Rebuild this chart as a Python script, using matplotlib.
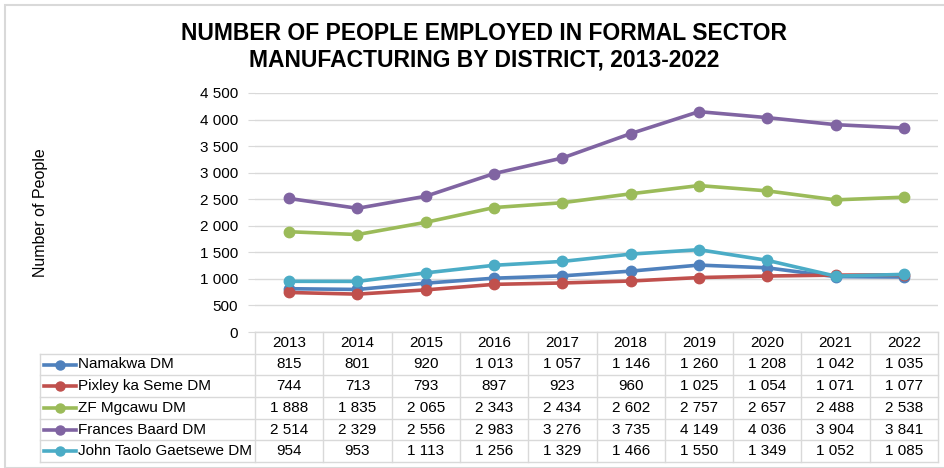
import matplotlib
matplotlib.use('Agg')
import matplotlib.pyplot as plt
import matplotlib.ticker as mticker
from matplotlib.patches import Rectangle

plt.rcParams['font.family'] = ['Liberation Sans', 'DejaVu Sans']

years = ['2013', '2014', '2015', '2016', '2017', '2018', '2019', '2020', '2021', '2022']
districts = ['Namakwa DM', 'Pixley ka Seme DM', 'ZF Mgcawu DM', 'Frances Baard DM', 'John Taolo Gaetsewe DM']
namakwa = [815, 801, 920, 1013, 1057, 1146, 1260, 1208, 1042, 1035]
pixley = [744, 713, 793, 897, 923, 960, 1025, 1054, 1071, 1077]
zf_mgcawu = [1888, 1835, 2065, 2343, 2434, 2602, 2757, 2657, 2488, 2538]
frances_baard = [2514, 2329, 2556, 2983, 3276, 3735, 4149, 4036, 3904, 3841]
john_taolo = [954, 953, 1113, 1256, 1329, 1466, 1550, 1349, 1052, 1085]
series = [namakwa, pixley, zf_mgcawu, frances_baard, john_taolo]
colors = ['#4F81BD', '#C0504D', '#9BBB59', '#8064A2', '#4BACC6']

W, H = 945, 468
fig = plt.figure(figsize=(W / 100, H / 100), dpi=100)

def fx(px):
    return px / W

def fy(py):
    return 1 - py / H

def fmt(v):
    return '{:,}'.format(int(v)).replace(',', ' ')

FS = 11  # table / tick font size

# outer border
fig.patches.append(Rectangle((fx(5), 0), 1, fy(5), transform=fig.transFigure,
                             fill=False, edgecolor='#D9D9D9', lw=1.5))

# plot area
L, R, T, B = 255, 938, 93, 332
ax = fig.add_axes([fx(L), fy(B), fx(R - L), fy(T) - fy(B)])
x = list(range(len(years)))
for vals, c in zip(series, colors):
    ax.plot(x, vals, color=c, lw=2.6, marker='o', ms=7.5, solid_capstyle='round')
ax.set_xlim(-0.5, len(years) - 0.5)
ax.set_ylim(0, 4500)
ax.yaxis.set_major_locator(mticker.MultipleLocator(500))
ax.yaxis.set_major_formatter(mticker.FuncFormatter(lambda v, p: fmt(v)))
ax.grid(axis='y', color='#D9D9D9', lw=1)
ax.set_axisbelow(True)
for s in ['top', 'right', 'bottom', 'left']:
    ax.spines[s].set_visible(False)
ax.set_xticks([])
ax.tick_params(axis='y', length=5, color='#D9D9D9', labelsize=FS, pad=7)
ax.set_ylabel('Number of People', fontsize=11.5)
ax.yaxis.set_label_coords((48 - L) / (R - L), 0.5)

fig.text(0.512, fy(33), 'NUMBER OF PEOPLE EMPLOYED IN FORMAL SECTOR', ha='center', va='center',
         fontsize=16.5, fontweight='bold')
fig.text(0.512, fy(60), 'MANUFACTURING BY DISTRICT, 2013-2022', ha='center', va='center',
         fontsize=16.5, fontweight='bold')

# data table
TL, TB = 40, 462
tax = fig.add_axes([fx(TL), fy(TB), fx(R - TL), fy(B) - fy(TB)])
unit = (R - L) / len(years)
left_edge = -0.5 - (L - TL) / unit
tax.set_xlim(left_edge, len(years) - 0.5)
nrows = len(districts) + 1
tax.set_ylim(nrows, 0)
tax.axis('off')
gc = '#D9D9D9'
tax.plot([-0.5, len(years) - 0.5], [0, 0], color=gc, lw=1, clip_on=False)
for r in range(1, nrows + 1):
    tax.plot([left_edge, len(years) - 0.5], [r, r], color=gc, lw=1, clip_on=False)
tax.plot([left_edge, left_edge], [1, nrows], color=gc, lw=1, clip_on=False)
for i in range(len(years) + 1):
    tax.plot([i - 0.5, i - 0.5], [0, nrows], color=gc, lw=1, clip_on=False)
for i, yr in enumerate(years):
    tax.text(i, 0.5, yr, ha='center', va='center', fontsize=FS)
for r, (name, vals, c) in enumerate(zip(districts, series, colors)):
    yy = r + 1.5
    lx0 = left_edge + 4 / unit
    lx1 = left_edge + 36 / unit
    tax.plot([lx0, lx1], [yy, yy], color=c, lw=2.6, clip_on=False)
    tax.plot([(lx0 + lx1) / 2], [yy], color=c, marker='o', ms=6.5, clip_on=False)
    tax.text(left_edge + 38 / unit, yy, name, ha='left', va='center', fontsize=FS)
    for i, v in enumerate(vals):
        tax.text(i, yy, fmt(v), ha='center', va='center', fontsize=FS)

fig.savefig('out.png', dpi=100)
